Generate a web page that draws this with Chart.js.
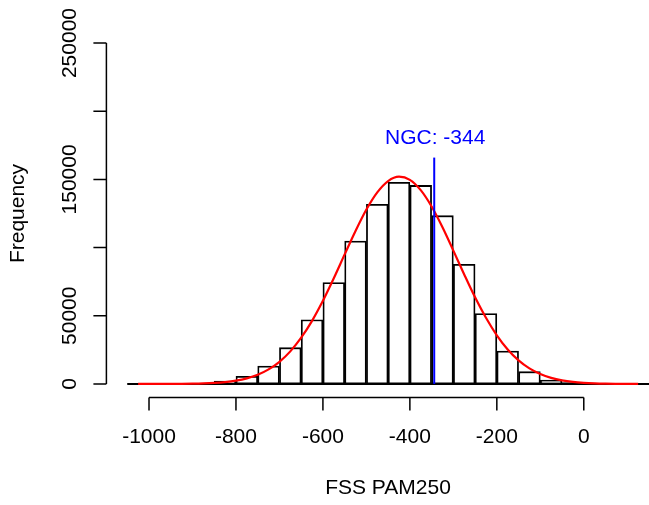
<!DOCTYPE html>
<html lang="en">
<head>
<meta charset="UTF-8" />
<title>FSS PAM250 histogram</title>
<style>
  body {
    margin: 0;
    background: #fff;
  }
  #wrap {
    width: 649px;
    height: 505px;
  }
</style>
</head>
<body>
<div id="wrap"><canvas id="chart" width="649" height="505"></canvas></div>

<script src="https://cdn.jsdelivr.net/npm/chart.js"></script>
<script>
// histogram bins (left edges, width 50) and counts
const binStarts = [-1050, -1000, -950, -900, -850, -800, -750, -700, -650, -600, -550, -500,
                   -450, -400, -350, -300, -250, -200, -150, -100, -50, 0, 50, 100];
const binWidth = 50;
const counts = [10, 50, 150, 500, 2200, 5600, 13200, 26600, 47100, 74300, 104800, 131700,
                147900, 145600, 123400, 87700, 51600, 24200, 9000, 2900, 1000, 300, 80, 20];

// fitted normal curve
const curveX = [-1025, -1000, -975, -950, -925, -900, -875, -850, -825, -800, -775, -750,
                -725, -700, -675, -650, -625, -600, -575, -550, -525, -500, -475, -450,
                -425, -400, -375, -350, -325, -300, -275, -250, -225, -200, -175, -150,
                -125, -100, -75, -50, -25, 0, 25, 50, 75, 100, 125];
const curveY = [4, 9, 21, 47, 99, 201, 395, 750, 1370, 2420, 4110, 6740,
                10670, 16250, 23900, 33900, 46300, 61000, 77500, 95000, 112200, 127900, 140500, 148800,
                152000, 149700, 142100, 130100, 114900, 97800, 80300, 63500, 48500, 35700, 25300, 17300,
                11400, 7270, 4470, 2640, 1500, 830, 440, 224, 110, 52, 24];

// observed NGC value
const ngcValue = -344;
const ngcTop = 166000;

const xTicks = [-1000, -800, -600, -400, -200, 0];
const yTicks = [0, 50000, 100000, 150000, 200000, 250000];
const yTickLabels = ["0", "50000", "", "150000", "", "250000"];

const FONT = '"Liberation Sans", Arial, sans-serif';

// R style axes, drawn off the chart's own scales
const rAxes = {
  id: 'rAxes',
  afterDraw(chart) {
    const ctx = chart.ctx;
    const xs = chart.scales.x;
    const ys = chart.scales.y;
    const area = chart.chartArea;
    ctx.save();
    ctx.strokeStyle = '#000';
    ctx.fillStyle = '#000';
    ctx.lineWidth = 1.5;
    ctx.font = '21px ' + FONT;

    // x axis
    const xb = area.bottom;
    ctx.beginPath();
    ctx.moveTo(xs.getPixelForValue(xTicks[0]), xb);
    ctx.lineTo(xs.getPixelForValue(xTicks[xTicks.length - 1]), xb);
    xTicks.forEach(t => {
      const px = xs.getPixelForValue(t);
      ctx.moveTo(px, xb);
      ctx.lineTo(px, xb + 13);
    });
    ctx.stroke();
    ctx.textAlign = 'center';
    ctx.textBaseline = 'middle';
    xTicks.forEach(t => {
      ctx.fillText(String(t), xs.getPixelForValue(t), xb + 40);
    });

    // y axis
    const yl = area.left;
    ctx.beginPath();
    ctx.moveTo(yl, ys.getPixelForValue(yTicks[0]));
    ctx.lineTo(yl, ys.getPixelForValue(yTicks[yTicks.length - 1]));
    yTicks.forEach(t => {
      const py = ys.getPixelForValue(t);
      ctx.moveTo(yl, py);
      ctx.lineTo(yl - 13, py);
    });
    ctx.stroke();
    yTicks.forEach((t, i) => {
      if (!yTickLabels[i]) return;
      ctx.save();
      ctx.translate(yl - 36, ys.getPixelForValue(t));
      ctx.rotate(-Math.PI / 2);
      ctx.fillText(yTickLabels[i], 0, 0);
      ctx.restore();
    });

    // titles (x title centred on the full plot region, which runs past the canvas)
    ctx.fillText('FSS PAM250', 388, 488);
    ctx.save();
    ctx.translate(18, (area.top + area.bottom) / 2);
    ctx.rotate(-Math.PI / 2);
    ctx.fillText('Frequency', 0, 0);
    ctx.restore();

    // NGC label
    ctx.fillStyle = '#0000ff';
    ctx.fillText('NGC: ' + ngcValue, xs.getPixelForValue(ngcValue) + 1, ys.getPixelForValue(180000));
    ctx.restore();
  }
};

new Chart(document.getElementById('chart'), {
  type: 'bar',
  data: {
    datasets: [
      {
        type: 'line',
        data: [{ x: ngcValue, y: 0 }, { x: ngcValue, y: ngcTop }],
        borderColor: '#0000ff',
        borderWidth: 2,
        pointRadius: 0,
        order: 0
      },
      {
        type: 'line',
        data: curveX.map((x, i) => ({ x, y: curveY[i] })),
        borderColor: '#ff0000',
        borderWidth: 2.2,
        pointRadius: 0,
        cubicInterpolationMode: 'monotone',
        order: 1
      },
      {
        type: 'line',
        data: [{ x: binStarts[0], y: 0 }, { x: binStarts[binStarts.length - 1] + binWidth, y: 0 }],
        borderColor: '#000',
        borderWidth: 2,
        pointRadius: 0,
        order: 2
      },
      {
        type: 'bar',
        data: binStarts.map((s, i) => ({ x: s + binWidth / 2, y: counts[i] })),
        backgroundColor: '#fff',
        borderColor: '#000',
        borderWidth: 1.8,
        borderSkipped: false,
        barPercentage: 1,
        categoryPercentage: 1,
        order: 3
      }
    ]
  },
  options: {
    responsive: false,
    animation: false,
    clip: false,
    layout: {
      padding: { left: 106.4, right: 0, top: 29.4, bottom: 107.4 }
    },
    scales: {
      x: { type: 'linear', min: -1098, max: 150, offset: false, display: false },
      y: { type: 'linear', min: -10000, max: 260000, display: false }
    },
    plugins: {
      legend: { display: false },
      tooltip: { enabled: false }
    }
  },
  plugins: [rAxes]
});
</script>
</body>
</html>
